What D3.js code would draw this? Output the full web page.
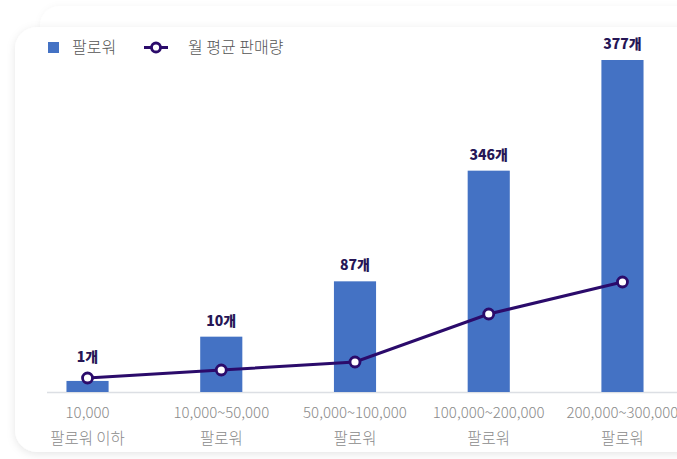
<!DOCTYPE html>
<html><head><meta charset="utf-8">
<script src="https://cdn.jsdelivr.net/npm/d3@7"></script>
<style>
html,body{margin:0;padding:0;background:#fff;}
svg{display:block;font-family:"Noto Sans CJK KR","Noto Sans",sans-serif;}
</style></head>
<body><svg id="c" width="677" height="459"></svg>
<script>
const categories = [["10,000","팔로워 이하"],["10,000~50,000","팔로워"],["50,000~100,000","팔로워"],["100,000~200,000","팔로워"],["200,000~300,000","팔로워"]];
const followers = [10000, 50000, 100000, 200000, 300000];
const salesIndex = [14, 22, 30, 78, 110];
const salesLabels = ["1개","10개","87개","346개","377개"];
const legendLabels = ["팔로워","월 평균 판매량"];

const svg = d3.select("#c");
const defs = svg.append("defs");
const f = defs.append("filter").attr("id","sh").attr("x","-10%").attr("y","-10%").attr("width","120%").attr("height","120%");
f.append("feDropShadow").attr("dx",0).attr("dy",2).attr("stdDeviation",4).attr("flood-color","#000").attr("flood-opacity",0.10);
const f2 = defs.append("filter").attr("id","sh2").attr("x","-10%").attr("y","-10%").attr("width","120%").attr("height","120%");
f2.append("feDropShadow").attr("dx",0).attr("dy",0).attr("stdDeviation",3).attr("flood-color","#000").attr("flood-opacity",0.04);

// background cards
svg.append("rect").attr("x",40).attr("y",6).attr("width",700).attr("height",440).attr("rx",20).attr("fill","#fff").attr("filter","url(#sh2)");
svg.append("rect").attr("x",15).attr("y",27).attr("width",700).attr("height",425).attr("rx",22).attr("fill","#fff").attr("filter","url(#sh)");

const baseY = 392;
const x = d3.scaleBand().domain(d3.range(categories.length)).range([21, 689]).paddingInner(0.685).paddingOuter(0.34);
const y = d3.scaleLinear().domain([0, 300000]).range([baseY, 60]);
const y2 = d3.scaleLinear().domain([0, 332]).range([baseY, 60]);

// baseline
svg.append("line").attr("x1",47).attr("x2",677).attr("y1",baseY+0.5).attr("y2",baseY+0.5).attr("stroke","#dcdfe4").attr("stroke-width",1.5);

// bars
svg.selectAll("rect.bar").data(followers).join("rect").attr("class","bar")
  .attr("x",(d,i)=>x(i)).attr("width",x.bandwidth())
  .attr("y",d=>y(d)).attr("height",d=>baseY-y(d)).attr("fill","#4472c4");

// line
const cx = i => x(i)+x.bandwidth()/2;
svg.append("path").datum(salesIndex)
  .attr("d", d3.line().x((d,i)=>cx(i)).y(d=>y2(d)))
  .attr("fill","none").attr("stroke","#2b0b6b").attr("stroke-width",3);
svg.selectAll("circle.pt").data(salesIndex).join("circle").attr("class","pt")
  .attr("cx",(d,i)=>cx(i)).attr("cy",d=>y2(d)).attr("r",5)
  .attr("fill","#fff").attr("stroke","#2b0b6b").attr("stroke-width",2.8);

// value labels
svg.selectAll("text.val").data(salesLabels).join("text").attr("class","val")
  .attr("x",(d,i)=>cx(i))
  .attr("y",(d,i)=>Math.min(y(followers[i]), y2(salesIndex[i])-5)-11)
  .attr("text-anchor","middle").attr("font-size",14).attr("font-weight",900)
  .attr("fill","#261656").text(d=>d);

// x axis labels
const xl = svg.selectAll("g.xl").data(categories).join("g").attr("class","xl");
xl.append("text").attr("x",(d,i)=>cx(i)).attr("y",418).attr("text-anchor","middle")
  .attr("font-size",15).attr("font-weight",300).attr("fill","#8a8a8a").text(d=>d[0]);
xl.append("text").attr("x",(d,i)=>cx(i)).attr("y",444).attr("text-anchor","middle")
  .attr("font-size",15.5).attr("font-weight",300).attr("fill","#8a8a8a").text(d=>d[1]);

// legend
const lg = svg.append("g");
lg.append("rect").attr("x",48).attr("y",42).attr("width",11).attr("height",11).attr("fill","#4472c4");
lg.append("text").attr("x",72).attr("y",53).attr("font-size",16).attr("font-weight",300).attr("fill","#555").text(legendLabels[0]);
lg.append("line").attr("x1",144).attr("x2",168).attr("y1",47.5).attr("y2",47.5).attr("stroke","#2b0b6b").attr("stroke-width",3);
lg.append("circle").attr("cx",156).attr("cy",47.5).attr("r",4.5).attr("fill","#fff").attr("stroke","#2b0b6b").attr("stroke-width",2.8);
lg.append("text").attr("x",188).attr("y",53).attr("font-size",16).attr("font-weight",300).attr("fill","#555").text(legendLabels[1]);
</script></body></html>
